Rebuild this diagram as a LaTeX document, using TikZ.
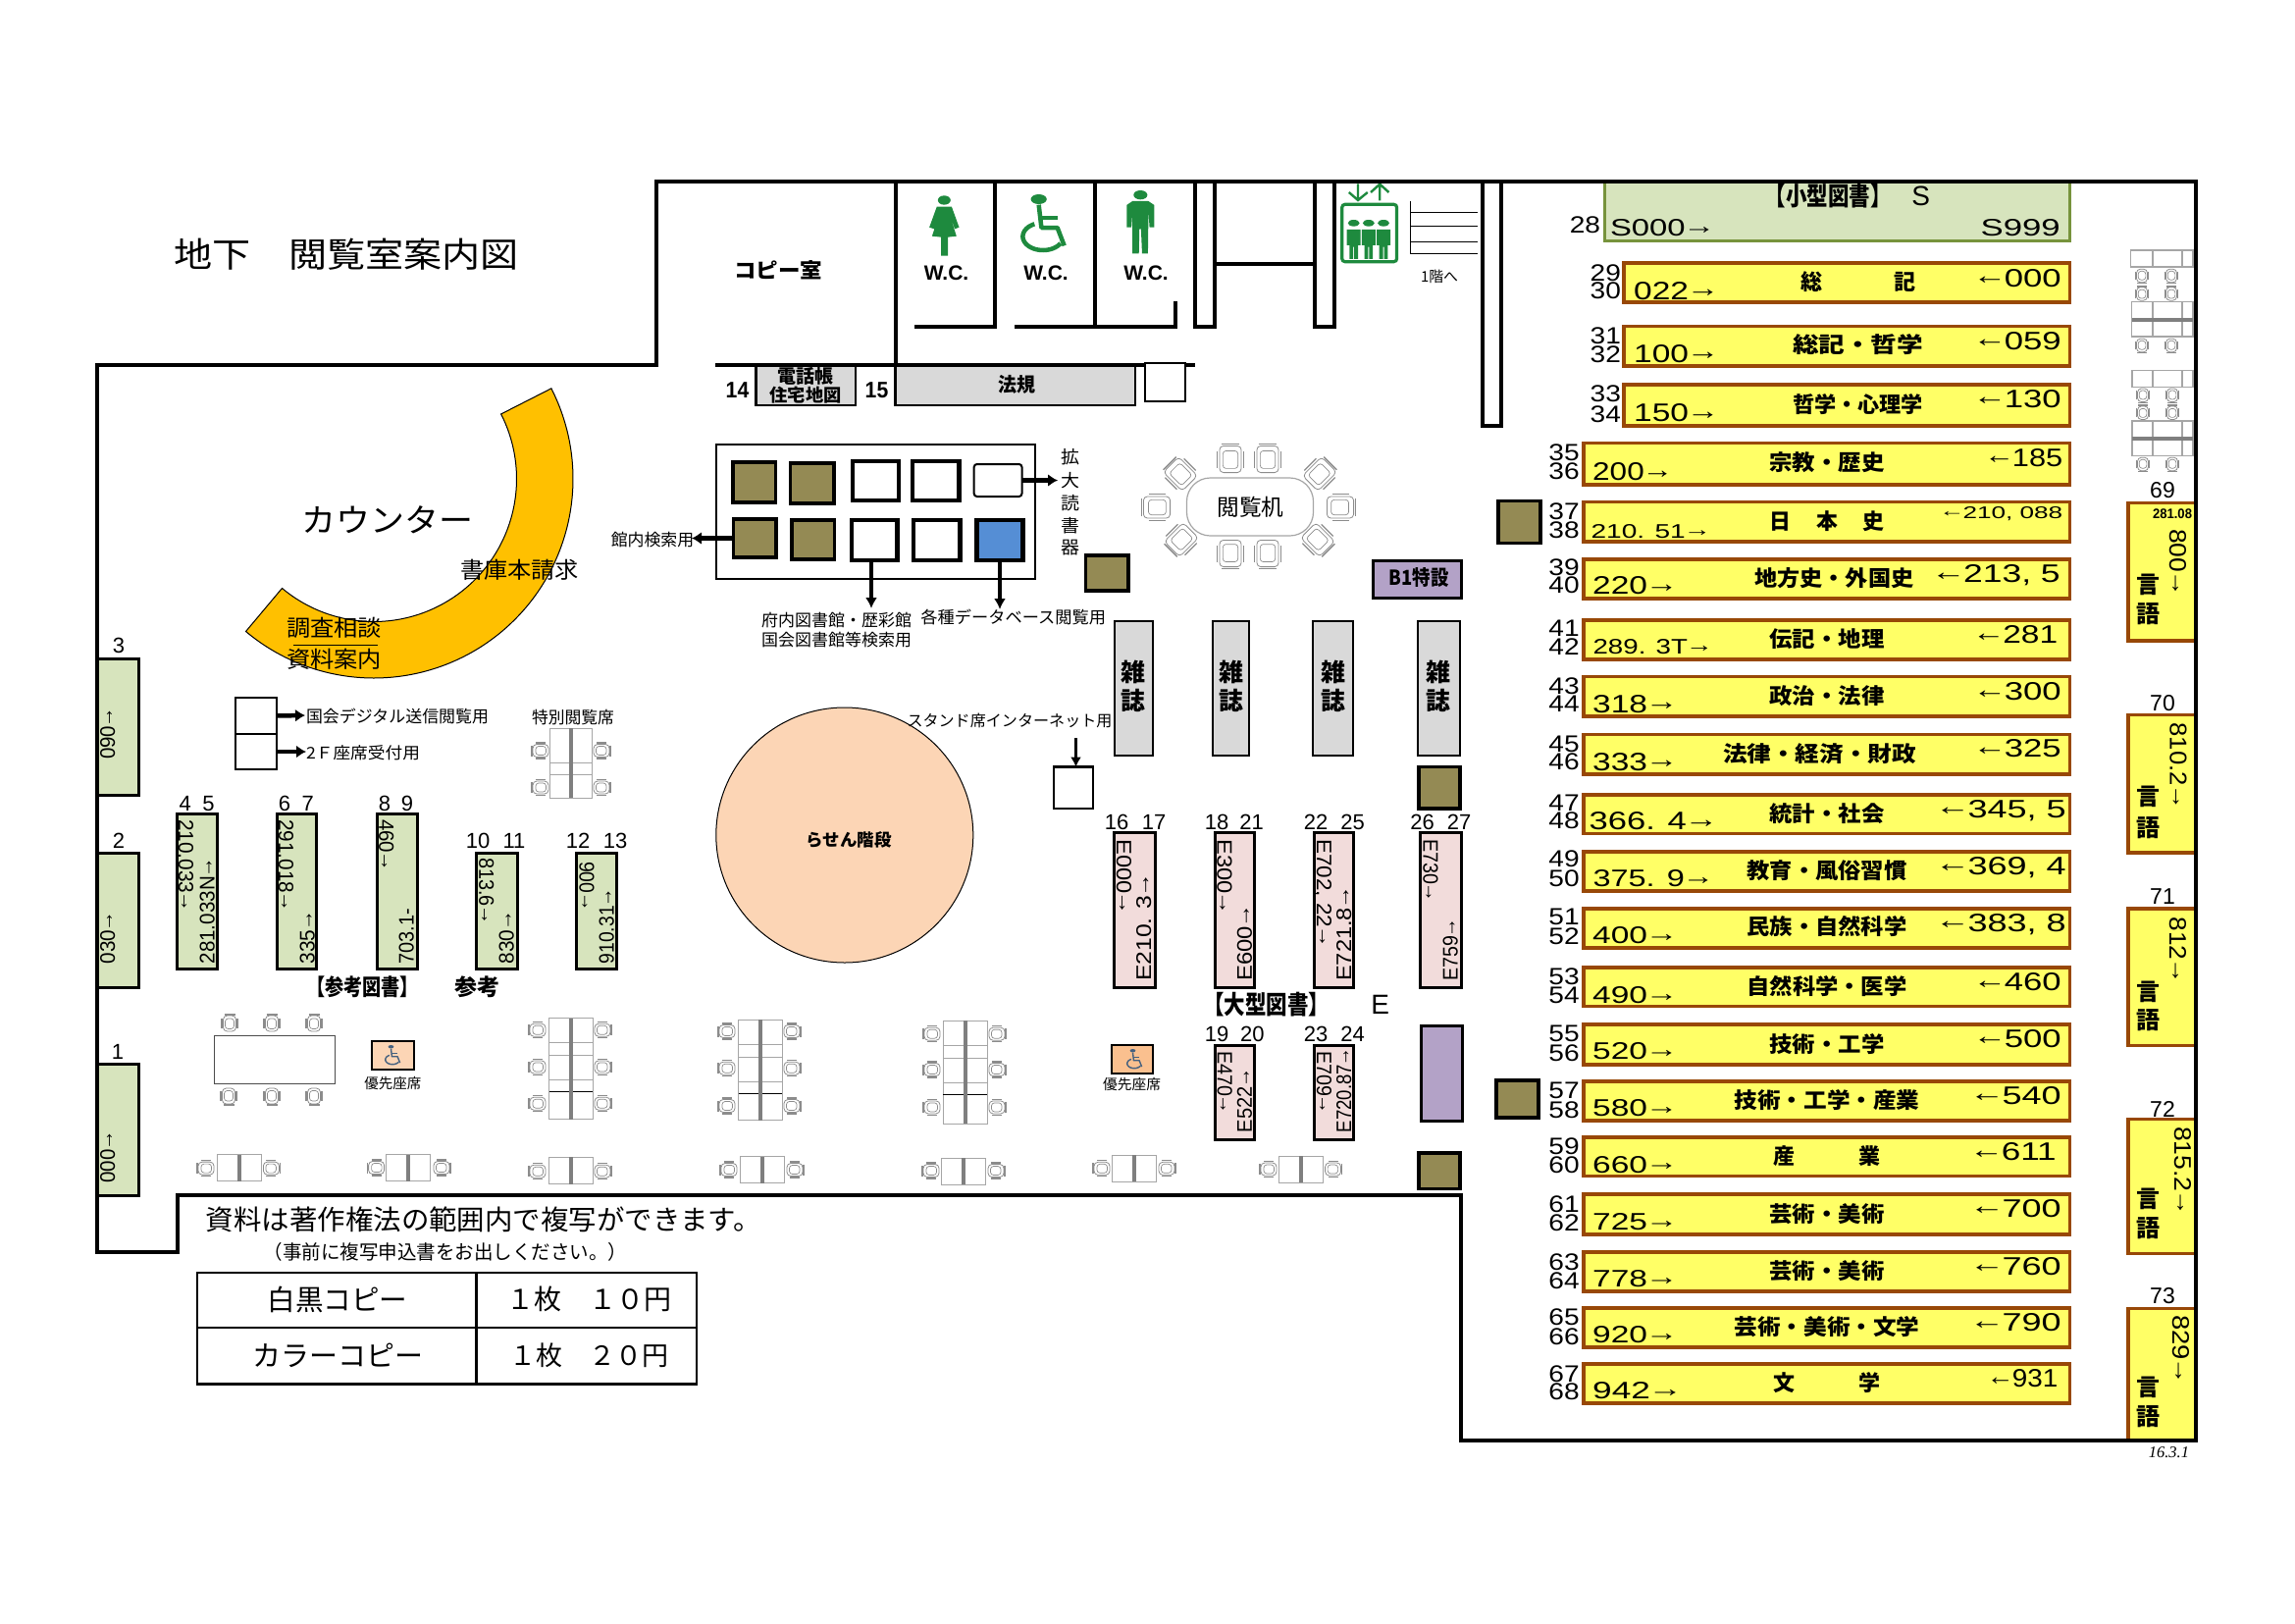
\documentclass[tikz,border=0pt]{standalone}
\usepackage{fontspec}
\usepackage{graphicx}
\usetikzlibrary{arrows.meta}
\setmainfont{Liberation Sans}
\newfontfamily\jp{Noto Sans CJK JP}
\newfontfamily\serifit{Liberation Serif}
\catcode`→=\active
\def→{\kern-.07em\raisebox{.09em}{\char"2192}\kern-.06em}
\catcode`←=\active
\def←{\kern-.06em\raisebox{.09em}{\char"2190}\kern-.07em}
\definecolor{baryellow}{HTML}{FFFF66}
\definecolor{barbrown}{HTML}{984807}
\definecolor{sgreen}{HTML}{D7E4BD}
\definecolor{sborder}{HTML}{77933C}
\definecolor{spink}{HTML}{F2DCDB}
\definecolor{olive}{HTML}{948A54}
\definecolor{sgray}{HTML}{D9D9D9}
\definecolor{purp}{HTML}{B3A2C7}
\definecolor{peach}{HTML}{FCD5B5}
\definecolor{orng}{HTML}{FAC08F}
\definecolor{counter}{HTML}{FFC000}
\definecolor{bluebox}{HTML}{558ED5}
\definecolor{wcgreen}{HTML}{1E8A3E}
\definecolor{chairc}{HTML}{8C8C8C}
\definecolor{deskc}{HTML}{A6A6A6}
\definecolor{spine}{HTML}{7F7F7F}
\definecolor{wchblue}{HTML}{44607F}
\tikzset{
 wall/.style={draw=black,line width=4,line join=miter},
 inwall/.style={draw=black,line width=4,line cap=butt},
 conn/.style={draw=black,line width=4.5,-{Latex[length=10pt,width=13pt]},shorten >=0pt},
 connmid/.style={draw=black,line width=3.5,-{Latex[length=11pt,width=12pt]}},
 conthin/.style={draw=black,line width=2.5,-{Latex[length=10pt,width=11pt]}},
 barbox/.style={draw=barbrown,fill=baryellow,line width=3.5},
 greenbox/.style={draw=black,fill=sgreen,line width=3},
 pinkbox/.style={draw=black,fill=spink,line width=3},
 graybox/.style={draw=black,fill=sgray,line width=2.2},
 olivebox/.style={draw=black,fill=olive,line width=3.5},
 whitebox/.style={draw=black,fill=white,line width=2.4},
 termbox/.style={draw=black,fill=white,line width=4.5},
 purpbox/.style={draw=black,fill=purp,line width=3},
}
\newcommand{\bx}[6][]{\node[#1,rectangle,anchor=north west,inner sep=0pt,outer sep=0pt,minimum width={(#5-#3)*1pt},minimum height={(#6-#4)*1pt}] (#2) at (#3,#4) {};}
\newcommand{\hf}[5]{\node[anchor=base west,inner sep=0pt] at (#1,{#3+#4/2}) {\resizebox{\dimexpr#2pt-#1pt\relax}{#4pt}{#5}};}
\newcommand{\vdn}[5]{\node[rotate=-90,anchor=base west,inner sep=0pt] at ({#1-#4/2},#2) {\resizebox{\dimexpr#3pt-#2pt\relax}{#4pt}{#5}};}
\newcommand{\vup}[5]{\node[rotate=90,anchor=base west,inner sep=0pt] at ({#1+#4/2},#2) {\resizebox{\dimexpr#2pt-#3pt\relax}{#4pt}{#5}};}
\newcommand{\jt}[5]{\node[inner sep=0pt] at (#1,#2) {\resizebox{#3pt}{\height}{\jp\fontsize{#4}{#4}\selectfont #5}};}
\newcommand{\rn}[3]{\node[inner sep=0pt] at (#1,#2) {\scalebox{1.17}[1]{\fontsize{24}{24}\selectfont #3}};}
\newcommand{\nl}[4]{\node[inner sep=0pt] at (#1,#2) {\fontsize{#3}{#3}\selectfont #4};}
\newcommand{\chair}[4]{\begin{scope}[shift={(#1,#2)},rotate=#3,scale=#4]
 \draw[chairc,fill=white,line width=.8,rounded corners=4] (-6.5,-8) rectangle (6.5,8);
 \draw[chairc,line width=.7,rounded corners=3] (-4.5,-5) rectangle (4.5,5.5);
 \draw[chairc,line width=1.5] (-5.5,-9)--(5.5,-9);
 \draw[chairc,line width=1.2] (-8,-5)--(-8,5) (8,-5)--(8,5);
\end{scope}}
\newcommand{\VDesk}[4]{\draw[deskc,line width=1,fill=white] (#1,#3) rectangle (#2,#4);
 \foreach \dd in {25,38,63,75}{\draw[deskc,line width=1] (#1,{#3+\dd})--(#2,{#3+\dd});}
 \draw[black,line width=.9] (#1,{#3+75})--(#2,{#3+75});
 \fill[spine] ({(#1+#2)/2-2},#3) rectangle ({(#1+#2)/2+2},#4);}
\newcommand{\VChairs}[5]{\chair{#1}{#3}{90}{1}\chair{#1}{#4}{90}{1}\chair{#1}{#5}{90}{1}\chair{#2}{#3}{-90}{1}\chair{#2}{#4}{-90}{1}\chair{#2}{#5}{-90}{1}}
\newcommand{\PairDesk}[7]{\draw[deskc,line width=1,fill=white] (#1,#3) rectangle (#2,#4);
 \fill[spine] ({(#1+#2)/2-2},#3) rectangle ({(#1+#2)/2+2},#4);
 \chair{#5}{#7}{90}{1}\chair{#6}{#7}{-90}{1}}
\newcommand{\person}[1]{\fill[wcgreen] (#1,172) ellipse (11pt and 10pt);
 \fill[wcgreen] (#1-13,192)--(#1+13,192)--(#1+13,240)--(#1+8,240)--(#1+8,282)--(#1+1,282)--(#1+1,245)--(#1-1,245)--(#1-1,282)--(#1-8,282)--(#1-8,240)--(#1-13,240)--cycle;}
% wheelchair drawn about its centre, in the units of an 82x172 icon
\newcommand{\wch}[6]{\begin{scope}[shift={(#1,#2)},xscale=#3,yscale=#4]
 \fill[#5] (-8,-72) ellipse (15pt and 15pt);
 \draw[#5,line width=#6,line join=round] (-8,-55)--(-3,15)--(27,15)--(40,70);
 \draw[#5,line width=#6] (-4,-15)--(27,-15);
 \draw[#5,line width=#6] plot[smooth,samples=30,domain=245:30] ({38*cos(\x)},{42+42*sin(\x)});
\end{scope}}
\begin{document}
\begin{tikzpicture}[x=1pt,y=-1pt]
\useasboundingbox (0,0) rectangle (2339,1654);
% counter
\fill[counter] plot[smooth,samples=60,domain=-27:130] ({381+203*cos(\x)},{488+203*sin(\x)}) -- plot[smooth,samples=60,domain=130:-27] ({381+145.5*cos(\x)},{488+145.5*sin(\x)}) -- cycle;
\draw[black,line width=1] plot[smooth,samples=60,domain=-27:130] ({381+203*cos(\x)},{488+203*sin(\x)}) -- plot[smooth,samples=60,domain=130:-27] ({381+145.5*cos(\x)},{488+145.5*sin(\x)}) -- cycle;
% spiral stairs
\draw[black,line width=1,fill=peach] (860.8,851) ellipse (131pt and 130pt);
\jt{865}{856}{87}{17.5}{\bfseries らせん階段}
% title + texts
\jt{353}{259}{352}{35}{地下　閲覧室案内図}
\jt{793}{275}{90}{21}{\bfseries コピー室}
\jt{394.5}{530}{175}{33}{カウンター}
\jt{529.5}{581}{121}{23}{書庫本請求}
\jt{340.5}{640}{97}{23}{調査相談}
\jt{340.5}{672}{97}{23}{資料案内}
\draw[black,line width=.8] (299,657)--(385,657);
% inner walls
\draw[inwall] (913,185)--(913,372);
\draw[inwall] (729,372)--(1218,372);
\draw[inwall] (1014,185)--(1014,333);
\draw[inwall] (932,333)--(1016,333);
\draw[inwall] (1116,185)--(1116,333);
\draw[inwall] (1034,333)--(1197.5,333)--(1197.5,307);
\draw[inwall] (1218,185)--(1218,333)--(1238,333)--(1238,185);
\draw[inwall] (1340,185)--(1340,333)--(1360,333)--(1360,185);
\draw[inwall] (1238,269)--(1340,269);
\draw[inwall] (1511,185)--(1511,434)--(1530,434)--(1530,185);
% wc and lift icons
\begin{scope}[shift={(700,170)},xscale=0.542,yscale=0.3333]
 \fill[wcgreen] (484,102) ellipse (12pt and 14pt);
 \fill[wcgreen] (470,122)--(498,122)--(512,185)--(504,190)--(495,150)--(507,212)--(491,215)--(491,272)--(478,272)--(478,215)--(461,212)--(474,150)--(465,190)--(456,185)--cycle;
 \fill[wcgreen] (853,86) ellipse (13pt and 14pt);
 \fill[wcgreen] (838,105)--(868,105)--(879,117)--(879,185)--(870,185)--(868,135)--(867,265)--(856,265)--(854,190)--(851,190)--(850,265)--(838,265)--(838,135)--(836,185)--(827,185)--(827,117)--cycle;
 \draw[wcgreen,line width=3.2,rounded corners=3] (1232,115) rectangle (1335,290);
 \person{1254}\person{1282}\person{1310}
 \draw[wcgreen,line width=2.4] (1262,52)--(1262,100) (1245,78)--(1262,102)--(1280,78);
 \draw[wcgreen,line width=2.4] (1303,103)--(1303,55) (1286,78)--(1303,53)--(1320,78);
 \draw[black,line width=1] (1360,105)--(1360,265) (1360,140)--(1487,140) (1360,181)--(1487,181) (1360,229)--(1487,229) (1360,265)--(1487,265);
\end{scope}
\wch{1063}{227}{.542}{.3333}{wcgreen}{4.5}
\jt{1467}{282}{38}{15}{1階へ}
\nl{964.5}{278}{21}{\bfseries W.C.}
\nl{1066}{278}{21}{\bfseries W.C.}
\nl{1168}{278}{21}{\bfseries W.C.}
% counter-side shelves
\bx[graybox]{tel}{770.5}{373}{872}{413}
\jt{821}{383}{57}{19}{\bfseries 電話帳}
\jt{821}{403}{73}{18}{\bfseries 住宅地図}
\bx[graybox]{hoki}{912.5}{373}{1157}{413}
\jt{1036}{392}{38}{20}{\bfseries 法規}
\bx[whitebox]{wb}{1167}{370}{1208}{409}
\node[inner sep=0pt] at (751.5,398) {\scalebox{.92}[1]{\fontsize{23}{23}\selectfont\bfseries 14}};
\node[inner sep=0pt] at (893.5,398) {\scalebox{.92}[1]{\fontsize{23}{23}\selectfont\bfseries 15}};
% terminals
\bx[whitebox]{term}{730}{453}{1055}{590}
\bx[olivebox]{t1}{747}{471}{790.5}{512}
\bx[olivebox]{t2}{805.7}{472}{850}{513}
\bx[termbox]{t3}{869}{470}{916}{510}
\bx[termbox]{t4}{930}{470}{977.5}{510}
\bx[draw=black,fill=white,line width=2,rounded corners=3]{t5}{992.7}{473}{1041.5}{506}
\bx[olivebox]{t6}{747.7}{529}{791}{568}
\bx[olivebox]{t7}{807}{530}{850.7}{570}
\bx[termbox]{t8}{868}{530}{914.6}{571}
\bx[termbox]{t9}{931}{530}{978.6}{571}
\bx[draw=black,fill=bluebox,line width=4.5]{t10}{995.4}{530}{1042.5}{571}
\coordinate (endReader) at (1078,489.5);
\coordinate (endSearch) at (705,548.5);
\coordinate (endPref) at (888,620);
\coordinate (endDb) at (1019,621);
\draw[conn] (t5.east)--(endReader);
\draw[conn] (t6.west)--(endSearch);
\draw[connmid] (t8.south -| endPref)--(endPref);
\draw[connmid] (t10.south -| endDb)--(endDb);
\jt{1091}{466}{19}{18}{拡}
\jt{1091}{490}{19}{18}{大}
\jt{1091}{513}{19}{18}{読}
\jt{1091}{536}{19}{18}{書}
\jt{1091}{558}{19}{18}{器}
\jt{665}{550}{84.5}{17}{館内検索用}
\jt{852.5}{632}{153}{17}{府内図書館・歴彩館}
\jt{852.5}{652}{153}{17}{国会図書館等検索用}
\jt{1032.7}{629}{188.5}{17}{各種データベース閲覧用}
% reading table
\draw[deskc,line width=1.2,fill=white,rounded corners=24] (1209.5,487) rectangle (1338.5,546);
\jt{1274.5}{517}{68}{23}{閲覧机}
\chair{1254}{468}{0}{1.7}\chair{1292}{468}{0}{1.7}\chair{1254}{564}{180}{1.7}\chair{1292}{564}{180}{1.7}
\chair{1179}{517}{90}{1.7}\chair{1366}{517}{-90}{1.7}
\chair{1203}{483}{45}{1.7}\chair{1345}{483}{-45}{1.7}\chair{1204}{550}{135}{1.7}\chair{1343}{550}{-135}{1.7}
\bx[olivebox]{o1}{1106.5}{566}{1150}{602}
\bx[purpbox]{b1}{1399.7}{571}{1489.7}{609}
\jt{1446}{589}{61}{21}{\bfseries B1特設}
\bx[olivebox]{o2}{1527}{510.6}{1570}{553.5}
% magazines
\bx[graybox]{m1}{1135.8}{633}{1175}{770}
\bx[graybox]{m2}{1235.8}{633}{1273}{770}
\bx[graybox]{m3}{1337.6}{633}{1378.7}{770}
\bx[graybox]{m4}{1444.7}{633}{1488}{770}
\jt{1155}{684.5}{25}{25}{\bfseries 雑}\jt{1155}{714}{25}{25}{\bfseries 誌}
\jt{1254.5}{684.5}{25}{25}{\bfseries 雑}\jt{1254.5}{714}{25}{25}{\bfseries 誌}
\jt{1358.6}{684.5}{25}{25}{\bfseries 雑}\jt{1358.6}{714}{25}{25}{\bfseries 誌}
\jt{1466}{684.5}{25}{25}{\bfseries 雑}\jt{1466}{714}{25}{25}{\bfseries 誌}
\jt{1029}{734}{209}{16}{スタンド席インターネット用}
\bx[whitebox]{stand}{1073.8}{781.6}{1114}{824}
\coordinate (standFrom) at (1096.5,752);
\draw[conthin] (standFrom)--(standFrom |- stand.north);
\bx[olivebox]{o3}{1446}{781.6}{1488}{824}
% E shelves
\bx[pinkbox]{e1}{1135.8}{848}{1177}{1006.7}
\bx[pinkbox]{e2}{1238}{848}{1278.7}{1006.7}
\bx[pinkbox]{e3}{1339.8}{848}{1379.6}{1006.7}
\bx[pinkbox]{e4}{1447.9}{848}{1489.8}{1006.7}
\bx[pinkbox]{e5}{1238}{1065}{1278.7}{1161}
\bx[pinkbox]{e6}{1339.8}{1065}{1379.6}{1161}
\nl{1138}{837.5}{22}{16}\nl{1176}{837.5}{22}{17}\nl{1240}{837.5}{22}{18}\nl{1275.5}{837.5}{22}{21}
\nl{1341}{837.5}{22}{22}\nl{1378.7}{837.5}{22}{25}\nl{1449.6}{837.5}{22}{26}\nl{1487}{837.5}{22}{27}
\nl{1240}{1054}{22}{19}\nl{1276.4}{1054}{22}{20}\nl{1341}{1054}{22}{23}\nl{1378.7}{1054}{22}{24}
\vdn{1145.6}{855}{931}{15}{E000→}
\vup{1165.7}{1000}{891}{15}{E210. 3→}
\vdn{1248}{855}{931}{15}{E300→}
\vup{1268.4}{1000}{923.6}{15}{E600→}
\vdn{1349.6}{855}{964.6}{15}{E702, 22→}
\vup{1369.7}{1000}{904.5}{15}{E721.8→}
\vdn{1458}{855}{918}{15}{E730→}
\vup{1478}{1000}{937}{15}{E759→}
\vdn{1248.3}{1071}{1134}{15}{E470→}
\vup{1268.4}{1154.4}{1090}{15}{E522→}
\vdn{1349.6}{1071}{1134}{15}{E709→}
\vup{1369.7}{1154.4}{1069}{15}{E720.87→}
\jt{1290.7}{1024}{129}{26}{\bfseries 【大型図書】}
\nl{1406.8}{1024}{28}{E}
\bx[purpbox]{p2}{1448}{1045}{1490}{1142}
\bx[olivebox]{o4}{1525}{1101}{1568}{1139}
\bx[olivebox]{o5}{1446}{1175}{1488}{1211.4}
% wheelchair seats
\bx[draw=black,fill=orng,line width=2]{pr2}{1132.7}{1065}{1175}{1094}
\wch{1156}{1079}{.19}{.115}{wchblue}{1.4}
\jt{1153.7}{1104.6}{59}{14.5}{優先座席}
\bx[draw=black,fill=peach,line width=2]{pr1}{379}{1061.4}{422}{1090}
\wch{400}{1075}{.19}{.115}{wchblue}{1.4}
\jt{400.4}{1104}{58}{14.5}{優先座席}
% left green shelves
\bx[greenbox]{g3}{99}{671.3}{141}{810}
\bx[greenbox]{g2}{99}{869}{141}{1006}
\bx[greenbox]{g1}{99}{1084.4}{141}{1218}
\nl{121}{658}{22}{3}\nl{121}{856.7}{22}{2}\nl{120}{1072}{22}{1}
\vup{109.6}{774}{722}{15}{090→}
\vup{109.6}{982.5}{930}{15}{030→}
\vup{109.6}{1205.8}{1153.8}{15}{000→}
\bx[greenbox]{g45}{180.5}{829.4}{221}{987.7}
\bx[greenbox]{g67}{282}{829.4}{322.9}{987.7}
\bx[greenbox]{g89}{384}{829.4}{425}{987.7}
\bx[greenbox]{g1011}{485}{869}{527}{987.7}
\bx[greenbox]{g1213}{587}{869}{628}{987.7}
\nl{188.7}{818.6}{22}{4}\nl{212.6}{818.6}{22}{5}\nl{290}{818.6}{22}{6}\nl{313.7}{818.6}{22}{7}\nl{392}{818.6}{22}{8}\nl{415}{818.6}{22}{9}
\nl{487}{856.7}{22}{10}\nl{524}{856.7}{22}{11}\nl{589}{856.7}{22}{12}\nl{627}{856.7}{22}{13}
\vdn{189.7}{835}{928.3}{15}{210.033→}
\vup{211}{982.5}{875.4}{15}{281.033N→}
\vdn{291.7}{835}{928}{15}{291.018→}
\vup{313}{982.5}{929.6}{15}{335→}
\vdn{393.8}{835}{887}{15}{460→}
\vup{414}{982.5}{926}{15}{703.1-}
\vdn{495.8}{874}{941}{15}{813.6→}
\vup{516}{982.5}{929.6}{15}{830→}
\vdn{598}{878}{927}{15}{900→}
\vup{618}{982.5}{906.6}{15}{910.31→}
\jt{369.5}{1005.5}{115}{23}{\bfseries 【参考図書】}
\jt{486.6}{1005.5}{46}{23}{\bfseries 参考}
% small terminals
\bx[whitebox]{k1}{240}{711}{282}{748}
\bx[whitebox]{k2}{240}{748}{282}{784}
\coordinate (endK1) at (311,729);
\coordinate (endK2) at (312,766);
\draw[conn] (k1.east)--(endK1);
\draw[conn] (k2.east)--(endK2);
\jt{405}{730}{186}{17}{国会デジタル送信閲覧用}
\jt{370}{767}{116}{16.5}{2Ｆ座席受付用}
\jt{584}{730.6}{84}{17}{特別閲覧席}
% desks and chairs
\draw[deskc,line width=1,fill=white] (560.6,742) rectangle (603.5,813.4);
\draw[deskc,line width=1] (560.6,777.8)--(603.5,777.8) (560.6,789.5)--(603.5,789.5);
\fill[spine] (580,742) rectangle (584,813.4);
\chair{551}{765}{90}{1}\chair{613}{765}{-90}{1}\chair{551}{802.5}{90}{1}\chair{613}{802.5}{-90}{1}
\VDesk{559.6}{604}{1037.5}{1140.8}\VChairs{548}{614}{1049.7}{1087.4}{1124.7}
\VDesk{752.5}{797}{1039}{1141.6}\VChairs{741}{807}{1051}{1088.7}{1127}
\VDesk{961}{1006}{1040}{1145}\VChairs{950}{1016}{1053.7}{1090}{1128.4}
\PairDesk{221}{266}{1176.7}{1203.6}{210}{276.4}{1190.6}
\PairDesk{393.8}{438.7}{1176.7}{1203.6}{383.6}{450}{1190}
\PairDesk{559.6}{604}{1179}{1206.7}{548}{614}{1193.7}
\PairDesk{754.5}{799}{1178.5}{1205.8}{743}{810}{1192}
\PairDesk{959.5}{1004}{1180}{1207}{949}{1015}{1193}
\PairDesk{1133.6}{1178}{1177}{1204}{1123}{1189}{1190.8}
\PairDesk{1303}{1348}{1178}{1205}{1293}{1358.6}{1191.5}
\draw[black!70,line width=1,fill=white] (218.8,1055.3) rectangle (341.7,1104.8);
\chair{234}{1043}{0}{1}\chair{277}{1043}{0}{1}\chair{320}{1043}{0}{1}\chair{233}{1117}{180}{1}\chair{277}{1117}{180}{1}\chair{320}{1117}{180}{1}
% right desks
\draw[deskc,line width=1.1] (2171.6,255) rectangle (2235,272) (2194,255)--(2194,272) (2224,255)--(2224,272);
\chair{2183}{281}{180}{.85}\chair{2213}{281}{180}{.85}\chair{2183}{299.4}{0}{.85}\chair{2213}{299.4}{0}{.85}
\draw[deskc,line width=1.1] (2172.6,307.8) rectangle (2235,343) (2194,307.8)--(2194,343) (2224,307.8)--(2224,343);
\fill[spine] (2172.6,324) rectangle (2235,328);
\chair{2183}{352}{180}{.85}\chair{2213}{352}{180}{.85}
\draw[deskc,line width=1.1] (2173,377.8) rectangle (2235,394.6) (2194,377.8)--(2194,394.6) (2224,377.8)--(2224,394.6);
\chair{2184}{402.7}{180}{.85}\chair{2214}{402.7}{180}{.85}\chair{2184}{420.7}{0}{.85}\chair{2214}{420.7}{0}{.85}
\draw[deskc,line width=1.1] (2173,429) rectangle (2235,464.7) (2194,429)--(2194,464.7) (2224,429)--(2224,464.7);
\fill[spine] (2173,444.5) rectangle (2235,448.5);
\chair{2184}{473}{180}{.85}\chair{2214}{473}{180}{.85}
% S bar
\bx[draw=sborder,fill=sgreen,line width=3]{sbar}{1635}{184}{2109.5}{245.4}
\jt{1863}{200}{129}{26}{\bfseries 【小型図書】}
\nl{1957.7}{200}{28}{S}
\hf{1640.8}{1746}{232}{17}{S000→}
\hf{2018.4}{2099.5}{232}{17}{S999}
\rn{1615.4}{229}{28}
% yellow bars
\bx[barbox]{y29}{1655}{268}{2109.5}{307.8}
\bx[barbox]{y31}{1655}{332.6}{2109.5}{372.8}
\bx[barbox]{y33}{1655}{392}{2109.5}{434}
\bx[barbox]{y35}{1614}{451.7}{2109.5}{494}
\bx[barbox]{y37}{1614}{511.7}{2109.5}{552}
\bx[barbox]{y39}{1614}{570}{2109.5}{610}
\bx[barbox]{y41}{1614}{632}{2109.5}{672}
\bx[barbox]{y43}{1614}{689.7}{2109.5}{730}
\bx[barbox]{y45}{1614}{748.6}{2109.5}{789}
\bx[barbox]{y47}{1614}{810}{2109.5}{849.7}
\bx[barbox]{y49}{1614}{868}{2109.5}{907.8}
\bx[barbox]{y51}{1614}{926}{2109.5}{966}
\bx[barbox]{y53}{1614}{986}{2109.5}{1025.6}
\bx[barbox]{y55}{1614}{1044}{2109.5}{1084.8}
\bx[barbox]{y57}{1614}{1102}{2109.5}{1142}
\bx[barbox]{y59}{1614}{1159}{2109.5}{1198.7}
\bx[barbox]{y61}{1614}{1217}{2109.5}{1257.8}
\bx[barbox]{y63}{1614}{1276}{2109.5}{1316}
\bx[barbox]{y65}{1614}{1333}{2109.5}{1373}
\bx[barbox]{y67}{1614}{1390}{2109.5}{1430}
% row numbers
\rn{1636.3}{278}{29}\rn{1636.3}{296.3}{30}\rn{1636.3}{342}{31}\rn{1636.3}{361}{32}\rn{1636.3}{401.5}{33}\rn{1636.3}{422}{34}
\rn{1594}{461.6}{35}\rn{1594}{480}{36}\rn{1594}{521}{37}\rn{1594}{540.5}{38}\rn{1594}{578}{39}\rn{1594}{596.7}{40}
\rn{1594}{640.7}{41}\rn{1594}{659}{42}\rn{1594}{699}{43}\rn{1594}{717}{44}\rn{1594}{758}{45}\rn{1594}{776}{46}
\rn{1594}{818}{47}\rn{1594}{836.6}{48}\rn{1594}{875}{49}\rn{1594}{894.8}{50}\rn{1594}{934.5}{51}\rn{1594}{954}{52}
\rn{1594}{995}{53}\rn{1594}{1014.5}{54}\rn{1594}{1053}{55}\rn{1594}{1073.6}{56}\rn{1594}{1111.4}{57}\rn{1594}{1130.8}{58}
\rn{1594}{1168.6}{59}\rn{1594}{1187.5}{60}\rn{1594}{1226.8}{61}\rn{1594}{1246}{62}\rn{1594}{1286}{63}\rn{1594}{1305}{64}
\rn{1594}{1342.6}{65}\rn{1594}{1362}{66}\rn{1594}{1400}{67}\rn{1594}{1418}{68}
% left values
\hf{1665}{1750}{296.3}{18}{022→}
\hf{1665}{1750}{360}{18}{100→}
\hf{1665}{1750}{420.7}{18}{150→}
\hf{1623}{1703}{480.8}{18}{200→}
\hf{1621.4}{1742}{541}{14}{210. 51→}
\hf{1623}{1708}{596.7}{18}{220→}
\hf{1623.4}{1743.8}{658.7}{15}{289. 3T→}
\hf{1623}{1708}{717}{18}{318→}
\hf{1623}{1708}{776}{18}{333→}
\hf{1619.4}{1748.8}{836.6}{18}{366. 4→}
\hf{1623.4}{1744.8}{894.8}{17}{375. 9→}
\hf{1623}{1708}{953}{17}{400→}
\hf{1623}{1708}{1014}{17}{490→}
\hf{1623}{1708}{1071}{17}{520→}
\hf{1623}{1708}{1129}{17}{580→}
\hf{1623}{1708}{1186.6}{17}{660→}
\hf{1623}{1708}{1244.7}{17}{725→}
\hf{1623}{1708}{1303}{17}{778→}
\hf{1623}{1708}{1360}{17}{920→}
\hf{1623}{1712.4}{1416.8}{17}{942→}
% right values
\hf{2012.4}{2100.5}{283}{18}{←000}
\hf{2012.4}{2100.5}{347}{18}{←059}
\hf{2012.4}{2100.5}{406}{18}{←130}
\hf{2024}{2102}{466}{18}{←185}
\hf{1977.6}{2102}{522}{12}{←210, 088}
\hf{1970}{2099.5}{584.5}{18}{←213, 5}
\hf{2012}{2097}{646.5}{18}{←281}
\hf{2012.4}{2100.5}{704.6}{18}{←300}
\hf{2012.4}{2100.5}{762.4}{18}{←325}
\hf{1974}{2105.5}{824}{18}{←345, 5}
\hf{1974}{2105.5}{882}{18}{←369, 4}
\hf{1974}{2105.5}{940}{18}{←383, 8}
\hf{2012.4}{2100.5}{1000.4}{18}{←460}
\hf{2012.4}{2100.5}{1058}{18}{←500}
\hf{2009}{2100.5}{1116}{18}{←540}
\hf{2009}{2095.5}{1173.5}{18}{←611}
\hf{2009}{2100.5}{1231}{18}{←700}
\hf{2009}{2100.5}{1290.3}{18}{←760}
\hf{2009}{2100.5}{1347.5}{18}{←790}
\hf{2026.4}{2097}{1404.7}{18}{←931}
% subject labels
\jt{1893.5}{286.7}{117}{22}{\bfseries 総\hspace{73pt}記}
\jt{1893.5}{351}{133}{22}{\bfseries 総記・哲学}
\jt{1893.5}{412}{133}{22}{\bfseries 哲学・心理学}
\jt{1862}{471.6}{117}{22}{\bfseries 宗教・歴史}
\jt{1862}{531.6}{117}{22}{\bfseries 日\hspace{26pt}本\hspace{26pt}史}
\jt{1869.4}{589}{162}{22}{\bfseries 地方史・外国史}
\jt{1862}{651.4}{117}{22}{\bfseries 伝記・地理}
\jt{1862}{709.6}{117}{22}{\bfseries 政治・法律}
\jt{1854.6}{768.7}{197}{22}{\bfseries 法律・経済・財政}
\jt{1862}{829}{117}{22}{\bfseries 統計・社会}
\jt{1862}{887}{163}{22}{\bfseries 教育・風俗習慣}
\jt{1862}{944}{163}{22}{\bfseries 民族・自然科学}
\jt{1862}{1004.8}{163}{22}{\bfseries 自然科学・医学}
\jt{1862}{1064}{117}{22}{\bfseries 技術・工学}
\jt{1862}{1121}{189}{22}{\bfseries 技術・工学・産業}
\jt{1862}{1178.3}{109}{22}{\bfseries 産\hspace{65pt}業}
\jt{1862}{1237}{117}{22}{\bfseries 芸術・美術}
\jt{1862}{1295.6}{117}{22}{\bfseries 芸術・美術}
\jt{1862}{1352}{189}{22}{\bfseries 芸術・美術・文学}
\jt{1862}{1408.6}{109}{22}{\bfseries 文\hspace{65pt}学}
% language shelves
\bx[barbox]{l69}{2169}{512.5}{2238}{653}
\bx[barbox]{l70}{2169}{728.7}{2238}{869}
\bx[barbox]{l71}{2169}{926}{2238}{1065.4}
\bx[barbox]{l72}{2169}{1140.5}{2238}{1277.7}
\bx[barbox]{l73}{2169}{1333.4}{2238}{1468}
\nl{2204}{500}{23}{69}\nl{2204}{717}{23}{70}\nl{2204}{914}{23}{71}\nl{2204}{1130}{23}{72}\nl{2204}{1321}{23}{73}
\jt{2189}{595.6}{24}{24}{\bfseries 言}\jt{2189}{626}{24}{24}{\bfseries 語}
\jt{2189}{812}{24}{24}{\bfseries 言}\jt{2189}{843.4}{24}{24}{\bfseries 語}
\jt{2189}{1011}{24}{24}{\bfseries 言}\jt{2189}{1040}{24}{24}{\bfseries 語}
\jt{2189}{1222}{24}{24}{\bfseries 言}\jt{2189}{1252}{24}{24}{\bfseries 語}
\jt{2189}{1414}{24}{24}{\bfseries 言}\jt{2189}{1444}{24}{24}{\bfseries 語}
\node[inner sep=0pt] at (2214,524) {\resizebox{40pt}{\height}{\fontsize{14}{14}\selectfont\bfseries 281.08}};
\vdn{2220}{539}{606}{17}{800→}
\vdn{2220}{736.4}{823}{17}{810.2→}
\vdn{2220}{934.5}{1001}{17}{812→}
\vdn{2225}{1148}{1237.5}{17}{815.2→}
\vdn{2223}{1340}{1409.5}{17}{829→}
\node[inner sep=0pt] at (2210.4,1480) {\fontsize{16.5}{16.5}\selectfont\serifit\itshape 16.3.1};
% notice and price table
\jt{493}{1242.7}{566}{28}{資料は著作権法の範囲内で複写ができます。}
\jt{454}{1276}{371}{20}{（事前に複写申込書をお出しください。）}
\draw[black,line width=2.8] (201,1297) rectangle (710,1410.5) (201,1353)--(710,1353) (485.6,1297)--(485.6,1410.5);
\jt{344}{1324}{143}{29}{白黒コピー}
\jt{600}{1324}{168}{28}{１枚　１０円}
\jt{344}{1381}{174}{29}{カラーコピー}
\jt{600}{1381}{162}{27}{１枚　２０円}
% outer wall
\draw[wall] (99,372)--(669,372)--(669,184.5)--(2238,184.5)--(2238,1468)--(1489,1468)--(1489,1218)--(180.5,1218)--(180.5,1276)--(99,1276)--cycle;
\end{tikzpicture}
\end{document}
